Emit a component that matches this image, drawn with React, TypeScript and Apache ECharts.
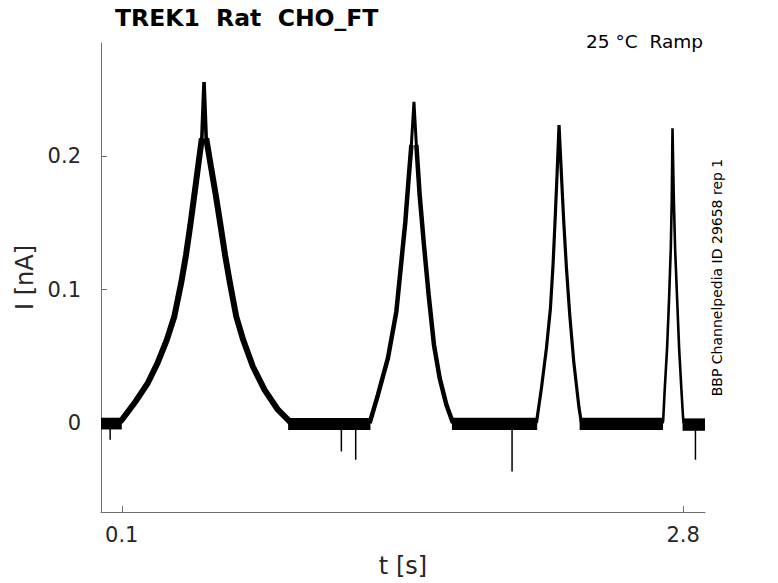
import React, { useEffect, useRef } from "react";
import * as echarts from "echarts";

const TITLE = "TREK1  Rat  CHO_FT";
const SUBTITLE = "25 °C  Ramp";
const SIDE_NOTE = "BBP Channelpedia ID 29658 rep 1";
const X_NAME = "t [s]";
const Y_NAME = "I [nA]";
const X_TICKS = [0.1, 2.8];
const Y_TICKS = [0, 0.1, 0.2];
const X_MIN = 0;
const X_MAX = 2.905;
const Y_MIN = -0.0667;
const Y_MAX = 0.285;

// Peak traces (time in s, current in nA)
const PEAK1_T = [0.079, 0.097, 0.161, 0.225, 0.2718, 0.3166, 0.3526, 0.3854, 0.4089, 0.4296, 0.4489, 0.4672, 0.485, 0.4956, 0.506, 0.5283, 0.5519, 0.5746, 0.5967, 0.6203, 0.6505, 0.6837, 0.7304, 0.7867, 0.8507, 0.9152];
const PEAK1_I = [0, 0.0017, 0.015, 0.03, 0.0449, 0.0624, 0.0799, 0.1049, 0.1261, 0.1485, 0.171, 0.1927, 0.2135, 0.2557, 0.2135, 0.1927, 0.171, 0.1485, 0.1261, 0.1049, 0.0799, 0.0624, 0.0424, 0.0249, 0.01, 0];

const PEAK2_T = [1.292, 1.332, 1.38, 1.4205, 1.4446, 1.4638, 1.4797, 1.4927, 1.5052, 1.5168, 1.5326, 1.5533, 1.5759, 1.6014, 1.6289, 1.6611, 1.6929];
const PEAK2_I = [0, 0.0212, 0.0487, 0.0836, 0.121, 0.151, 0.1835, 0.2085, 0.2409, 0.2085, 0.171, 0.1336, 0.0961, 0.0587, 0.0337, 0.0137, 0];

const PEAK3_T = [2.0942, 2.1183, 2.1424, 2.1616, 2.1741, 2.1837, 2.1933, 2.203, 2.2145, 2.2256, 2.2386, 2.2545, 2.2737, 2.2992, 2.3108];
const PEAK3_I = [0, 0.0262, 0.0562, 0.0861, 0.1186, 0.151, 0.186, 0.2234, 0.186, 0.151, 0.1161, 0.0811, 0.0461, 0.0112, 0];

const PEAK4_T = [2.6996, 2.7035, 2.7116, 2.7227, 2.7323, 2.7405, 2.7453, 2.7487, 2.755, 2.7612, 2.7708, 2.7805, 2.792, 2.7997, 2.802];
const PEAK4_I = [0, 0.0012, 0.0262, 0.0562, 0.0936, 0.1311, 0.1685, 0.221, 0.1685, 0.1311, 0.0936, 0.0562, 0.0237, 0.0037, 0];

// Baseline noise band segments: start, end (s), lower, upper (nA)
const BASE_START = [0.0, 0.9, 1.688, 2.302, 2.797];
const BASE_END = [0.1, 1.296, 2.098, 2.703, 2.905];
const BASE_LO = [-0.0048, -0.0052, -0.0052, -0.0052, -0.0058];
const BASE_HI = [0.004, 0.0038, 0.004, 0.004, 0.0035];

// Downward spikes: time (s), lowest value (nA)
const SPIKE_T = [0.044, 1.156, 1.225, 1.977, 2.859];
const SPIKE_I = [-0.0125, -0.0213, -0.0275, -0.0363, -0.0275];

const FONT = "DejaVu Sans";

function zip(a: number[], b: number[]) {
  return a.map((v, i) => [v, b[i]]);
}

function topIndex(v: number[]) {
  return v.indexOf(Math.max(...v));
}

function risingPart(t: number[], v: number[]) {
  const top = topIndex(v);
  return zip(t, v).filter((_, i) => i < top);
}

function fallingPart(t: number[], v: number[]) {
  const top = topIndex(v);
  return zip(t, v).filter((_, i) => i > top);
}

export default function App() {
  const ref = useRef<HTMLDivElement>(null);
  useEffect(() => {
    if (!ref.current) return;
    const chart = echarts.init(ref.current, undefined, { renderer: "svg" });
    const peakSeries = (data: number[][], width: number) => ({
      type: "line",
      data,
      showSymbol: false,
      symbol: "none",
      lineStyle: { color: "#000", width, join: "bevel", cap: "butt" },
      z: 3,
      silent: true,
    });
    const baseData = BASE_START.map((s, i) => [s, BASE_END[i], BASE_LO[i], BASE_HI[i]]);
    const spikeData = zip(SPIKE_T, SPIKE_I);
    chart.setOption({
      animation: false,
      grid: { left: 101, right: 73, top: 43, bottom: 71, containLabel: false },
      xAxis: {
        type: "value",
        min: X_MIN,
        max: X_MAX,
        name: X_NAME,
        nameLocation: "middle",
        nameGap: 42,
        nameTextStyle: { fontSize: 24, color: "#262626", fontFamily: FONT },
        axisLine: { show: true, onZero: false, lineStyle: { color: "#6e6e6e", width: 1 } },
        axisTick: { show: true, inside: true, length: 6, customValues: X_TICKS, lineStyle: { color: "#6e6e6e" } },
        axisLabel: {
          customValues: X_TICKS,
          fontSize: 21,
          color: "#262626",
          fontFamily: FONT,
          margin: 12,
          formatter: (v: number) => String(v),
        },
        splitLine: { show: false },
      },
      yAxis: {
        type: "value",
        min: Y_MIN,
        max: Y_MAX,
        name: Y_NAME,
        nameLocation: "middle",
        nameGap: 59,
        nameRotate: 90,
        nameTextStyle: { fontSize: 24, color: "#262626", fontFamily: FONT },
        axisLine: { show: true, onZero: false, lineStyle: { color: "#6e6e6e", width: 1 } },
        axisTick: { show: true, inside: true, length: 6, customValues: Y_TICKS, lineStyle: { color: "#6e6e6e" } },
        axisLabel: {
          customValues: Y_TICKS,
          fontSize: 21,
          color: "#262626",
          fontFamily: FONT,
          margin: 20,
          formatter: (v: number) => String(v),
        },
        splitLine: { show: false },
      },
      graphic: [
        {
          type: "text",
          x: 115,
          y: 18,
          style: { text: TITLE, fontSize: 23.5, fontWeight: "bold", fontFamily: FONT, fill: "#000", align: "left", verticalAlign: "middle" },
        },
        {
          type: "text",
          x: 703,
          y: 41,
          style: { text: SUBTITLE, fontSize: 18.5, fontFamily: FONT, fill: "#000", align: "right", verticalAlign: "middle" },
        },
        {
          type: "text",
          x: 716.5,
          y: 277.5,
          rotation: Math.PI / 2,
          style: { text: SIDE_NOTE, fontSize: 14, fontFamily: FONT, fill: "#000", align: "center", verticalAlign: "middle" },
        },
      ],
      series: [
        {
          type: "custom",
          data: baseData,
          encode: { x: [0, 1], y: [2, 3] },
          silent: true,
          z: 2,
          renderItem: (params: any, api: any) => {
            const p0 = api.coord([api.value(0), api.value(3)]);
            const p1 = api.coord([api.value(1), api.value(2)]);
            return {
              type: "rect",
              shape: { x: p0[0], y: p0[1], width: p1[0] - p0[0], height: p1[1] - p0[1] },
              style: { fill: "#000" },
            };
          },
        },
        {
          type: "custom",
          data: spikeData,
          encode: { x: 0, y: 1 },
          silent: true,
          z: 2,
          renderItem: (params: any, api: any) => {
            const a = api.coord([api.value(0), 0]);
            const b = api.coord([api.value(0), api.value(1)]);
            return {
              type: "line",
              shape: { x1: a[0], y1: a[1], x2: b[0], y2: b[1] },
              style: { stroke: "#000", lineWidth: 1.5 },
            };
          },
        },
        peakSeries(zip(PEAK1_T, PEAK1_I), 3.6),
        peakSeries(risingPart(PEAK1_T, PEAK1_I), 6),
        peakSeries(fallingPart(PEAK1_T, PEAK1_I), 6),
        peakSeries(zip(PEAK2_T, PEAK2_I), 3),
        peakSeries(risingPart(PEAK2_T, PEAK2_I), 4.5),
        peakSeries(fallingPart(PEAK2_T, PEAK2_I), 4.5),
        peakSeries(zip(PEAK3_T, PEAK3_I), 3.2),
        peakSeries(zip(PEAK4_T, PEAK4_I), 2.6),
      ],
    });
    return () => chart.dispose();
  }, []);
  return (
    <div
      ref={ref}
      style={{ position: "absolute", left: 0, top: 0, width: 778, height: 583, background: "#fff" }}
    />
  );
}
